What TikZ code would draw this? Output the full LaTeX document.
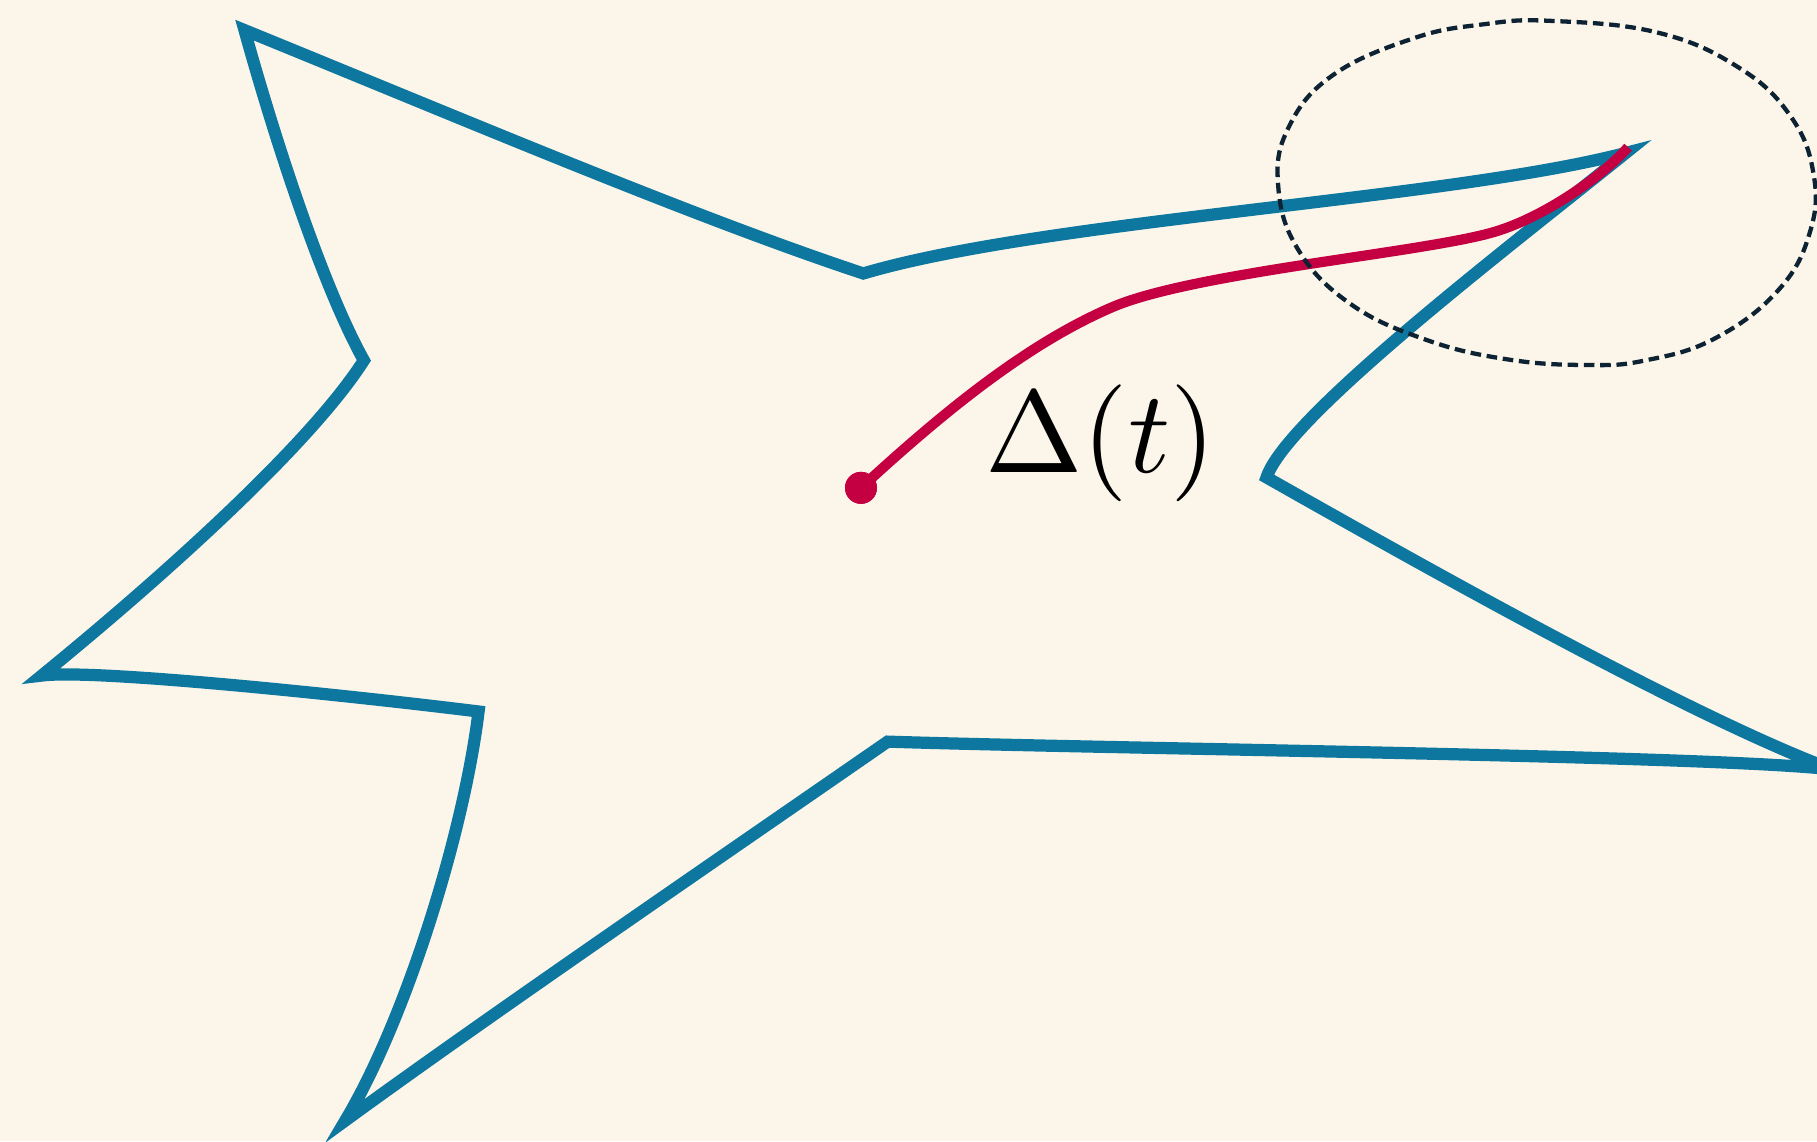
\documentclass[tikz,border=0pt]{standalone}
\usepackage{tikz}
\definecolor{bgc}{RGB}{252,246,234}
\definecolor{shapeblue}{RGB}{14,119,160}
\definecolor{curvered}{RGB}{196,0,66}
\definecolor{dashnavy}{RGB}{13,35,51}
\tikzset{
  outline/.style={draw=shapeblue, line width=3pt, line join=miter, miter limit=20},
  pathline/.style={draw=curvered, line width=2.5pt},
  regionline/.style={draw=dashnavy, line width=1.05pt, dash pattern=on 2.6pt off 1.4pt},
  startdot/.style={circle, fill=curvered, inner sep=0pt, minimum size=0.276cm},
  mathlabel/.style={inner sep=0pt, scale=2.87}
}
\begin{document}
\begin{tikzpicture}[x=0.01cm, y=-0.01cm]
\useasboundingbox (0,0) rectangle (1568,985);
\fill[bgc] (0,0) rectangle (1568,985);
\clip (0,0) rectangle (1568,985);

% star-like region
\draw[outline] (211,26) .. controls (400,103) and (600,188) .. (745,236)
  .. controls (900,190) and (1250,172) .. (1403,132)
  .. controls (1300,215) and (1110,360) .. (1093,412)
  .. controls (1243,497) and (1461,619) .. (1581,664)
  .. controls (1480,652) and (950,646) .. (766,640)
  .. controls (610,748) and (420,878) .. (298,967)
  .. controls (350,880) and (400,720) .. (413,614)
  .. controls (300,600) and (80,577) .. (36,583)
  .. controls (150,490) and (270,380) .. (314,311)
  .. controls (280,250) and (240,130) .. (211,26) -- cycle;

% start point and path
\coordinate (tipend) at (1405,127);
\node[startdot] (dot) at (743,421) {};
\draw[pathline] (dot.center) .. controls (820,350) and (890,295) .. (960,265)
  .. controls (1030,235) and (1230,218) .. (1290,200)
  .. controls (1335,186.5) and (1385,150) .. (tipend);
\node[startdot] at (dot.center) {};

% dashed region
\draw[regionline] plot[smooth cycle, tension=0.7] coordinates {
  (1338,18) (1430,28) (1500,58) (1545,100) (1565,150) (1562,200) (1535,250)
  (1480,292) (1420,311) (1369,315) (1300,310) (1230,293) (1165,262)
  (1120,215) (1103,160) (1112,110) (1150,65) (1220,33) (1280,21)};

% label
\node[mathlabel] (lbl) at (950,382.5) {$\Delta(t)$};
\end{tikzpicture}
\end{document}
